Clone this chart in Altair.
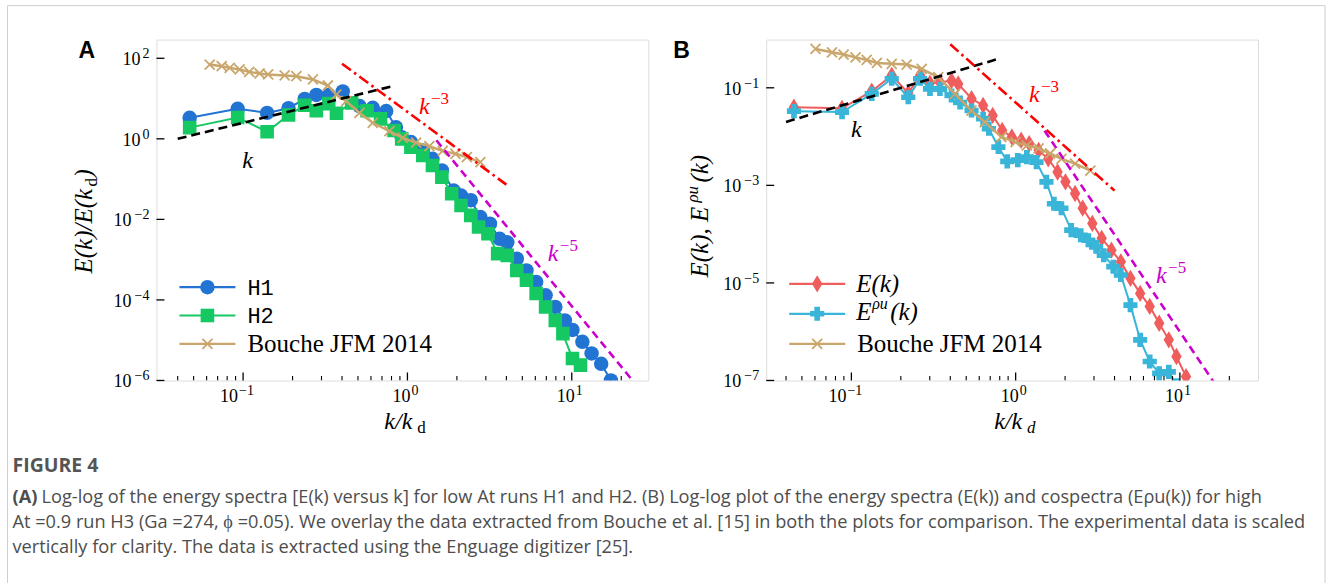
import altair as alt
import pandas as pd

# ---------------- Panel A: E(k)/E(k_d) for the low-At runs ----------------
h1_k = [0.0473, 0.0927, 0.140, 0.189, 0.237, 0.279, 0.332, 0.404, 0.511, 0.615, 0.743, 0.851,
        0.923, 1.05, 1.24, 1.42, 1.62, 1.91, 2.12, 2.43, 2.78, 3.18, 3.64, 4.05, 4.63, 5.30,
        6.07, 6.93, 7.94, 9.08, 10.1, 11.6, 13.2, 15.1, 17.3]
h1_e = [3.32, 5.55, 4.41, 5.76, 9.8, 12.3, 12.3, 15.0, 6.5, 5.9, 4.9, 1.95,
        1.1, 0.83, 0.51, 0.32, 0.164, 0.052, 0.039, 0.030, 0.0114, 0.0078, 0.0033, 0.0027,
        1.06e-3, 5.4e-4, 2.8e-4, 1.3e-4, 6.7e-5, 3.1e-5, 1.8e-5, 9.1e-6, 4.7e-6, 2.6e-6, 1.0e-6]

h2_k = [0.0473, 0.0927, 0.140, 0.189, 0.237, 0.279, 0.332, 0.370, 0.458, 0.568, 0.686, 0.829,
        0.923, 1.05, 1.24, 1.42, 1.62, 1.86, 2.12, 2.43, 2.71, 3.09, 3.54, 4.05, 4.63, 5.30,
        6.07, 6.93, 7.94, 8.83, 10.1, 11.3]
h2_e = [1.9, 3.4, 1.5, 3.9, 6.8, 5.0, 7.5, 4.3, 7.8, 5.0, 3.13, 1.61,
        1.0, 0.62, 0.386, 0.218, 0.112, 0.0433, 0.0222, 0.0126, 0.00645, 0.00441, 0.00141, 0.00128,
        5.4e-4, 3.1e-4, 1.44e-4, 6.7e-5, 3.1e-5, 1.46e-5, 3.5e-6, 2.4e-6]

bouche_a_k = [0.0626, 0.0741, 0.0829, 0.0952, 0.109, 0.126, 0.142, 0.179, 0.211, 0.266, 0.328,
              0.369, 0.424, 0.511, 0.615, 0.777, 0.936, 1.13, 1.36, 1.64, 1.96, 2.30, 2.78]
bouche_a_e = [70, 63.7, 57.8, 52.7, 46, 42, 39.6, 37.4, 36, 29.8, 21.1,
              12.6, 8.6, 4.4, 2.5, 1.55, 1.06, 0.8, 0.66, 0.50, 0.425, 0.351, 0.264]

# guide slopes (end points of straight lines in log-log)
slope1_a_k, slope1_a_e = [0.04, 0.8], [1.0, 20.0]
slope3_a_k, slope3_a_e = [0.4, 4.0], [73.0, 0.073]
slope5_a_k, slope5_a_e = [1.5, 30.0], [0.92, 2.9e-7]

# ---------------- Panel B: E(k) and E^{rho u}(k) for the high-At run ----------------
ek_k = [0.0447, 0.0877, 0.133, 0.176, 0.222, 0.262, 0.301, 0.346, 0.407, 0.447, 0.539, 0.634,
        0.725, 0.828, 0.948, 1.08, 1.21, 1.38, 1.58, 1.80, 2.01, 2.30, 2.56, 2.93, 3.34, 3.83,
        4.37, 5.00, 5.73, 6.55, 7.48, 8.56, 9.53, 10.9]
ek_e = [0.040, 0.038, 0.085, 0.18, 0.078, 0.18, 0.125, 0.13, 0.14, 0.12, 0.0596, 0.0436,
        0.0272, 0.0134, 0.0098, 0.0084, 0.0072, 0.0052, 0.0035, 0.00188, 0.00118, 6.8e-4, 3.4e-4,
        1.66e-4, 8.2e-5, 4.7e-5, 2.7e-5, 1.24e-5, 6.1e-6, 3.3e-6, 1.49e-6, 6.8e-7, 3.1e-7, 1.2e-7]

erho_k = [0.0447, 0.0877, 0.133, 0.176, 0.222, 0.262, 0.301, 0.346, 0.407, 0.459, 0.539, 0.634,
          0.687, 0.785, 0.889, 1.03, 1.17, 1.34, 1.54, 1.71, 1.90, 2.18, 2.49, 2.77, 3.09, 3.44,
          3.93, 4.37, 5.00, 5.73, 6.55, 7.48, 8.56, 9.6]
erho_e = [0.0332, 0.0318, 0.0753, 0.153, 0.064, 0.153, 0.095, 0.095, 0.0697, 0.05, 0.0343, 0.0232,
          0.0145, 0.0061, 0.0031, 0.0033, 0.0038, 0.0030, 0.00118, 4.2e-4, 3.4e-4, 1.21e-4, 9.5e-5,
          7.5e-5, 5.5e-5, 3.7e-5, 2.15e-5, 1.45e-5, 3.5e-6, 6.8e-7, 2.45e-7, 1.4e-7, 1.5e-7, 8e-8]

bouche_b_k = [0.0605, 0.0762, 0.0897, 0.106, 0.124, 0.143, 0.176, 0.217, 0.268, 0.338, 0.427,
              0.538, 0.649, 0.818, 1.0, 1.17, 1.38, 1.62, 1.90, 2.30, 2.85]
bouche_b_e = [0.627, 0.535, 0.48, 0.42, 0.372, 0.324, 0.31, 0.30, 0.245, 0.165, 0.075,
              0.034, 0.0198, 0.0098, 0.0077, 0.0066, 0.0057, 0.0045, 0.0035, 0.0028, 0.0020]

slope1_b_k, slope1_b_e = [0.04, 0.8], [0.02, 0.4]
slope3_b_k, slope3_b_e = [0.4, 4.0], [0.78, 7.8e-4]
slope5_b_k, slope5_b_e = [1.5, 20.0], [0.0132, 3.1e-8]

# axis ticks
x_major = [0.1, 1, 10]
x_major_exp = ["\u22121", "0", "1"]
x_minor = [0.04, 0.05, 0.06, 0.07, 0.08, 0.09, 0.2, 0.3, 0.4, 0.5, 0.6, 0.7, 0.8, 0.9,
           2, 3, 4, 5, 6, 7, 8, 9, 20]
ya_major = [1e2, 1e0, 1e-2, 1e-4, 1e-6]
ya_exp = ["2", "0", "\u22122", "\u22124", "\u22126"]
yb_major = [1e-1, 1e-3, 1e-5, 1e-7]
yb_exp = ["\u22121", "\u22123", "\u22125", "\u22127"]

caption_head = "FIGURE 4"
caption_lines = [
    "Log-log of the energy spectra [E(k) versus k] for low At runs H1 and H2. (B) Log-log plot of the energy spectra (E(k)) and cospectra (E\u03c1u(k)) for high",
    "At =0.9 run H3 (Ga =274, \u03d5 =0.05). We overlay the data extracted from Bouche et al. [15] in both the plots for comparison. The experimental data is scaled",
    "vertically for clarity. The data is extracted using the Enguage digitizer [25].",
]

# ---------------- styling ----------------
W, H = 492, 341
SERIF = "Liberation Serif"
MONO = "Liberation Mono"
SANS = "Open Sans"
CAP_SIZE = 18.2
LEG_SIZE = 25
BLUE, GREEN, TAN = "#2174d2", "#16c862", "#c9a66b"
RED_D, CYAN = "#f05d5d", "#38b5d8"
XMARK = "M-1,-1L1,1M1,-1L-1,1"
THIN_DIAMOND = "M0,-1L0.6,0L0,1L-0.6,0Z"
ONE = pd.DataFrame({"_": [0]})
SZ_CIRCLE, SZ_SQUARE, SZ_X, SZ_DIAMOND, SZ_PLUS = 210, 185, 100, 300, 200


def frame(k, e):
    return pd.DataFrame({"k": k, "e": e})


def enc(xs, ys):
    return dict(x=alt.X("k:Q", scale=xs, axis=None), y=alt.Y("e:Q", scale=ys, axis=None))


def series(k, e, xs, ys, color, shape, size, filled=True, lw=2.0):
    base = alt.Chart(frame(k, e)).encode(**enc(xs, ys))
    line = base.mark_line(color=color, strokeWidth=lw, clip=True)
    if filled:
        pts = base.mark_point(shape=shape, size=size, filled=True, fill=color, opacity=1,
                              strokeWidth=0, clip=True)
    else:
        pts = base.mark_point(shape=shape, size=size, filled=False, stroke=color, opacity=1,
                              strokeWidth=1.8, clip=True)
    return [line, pts]


def guide(k, e, xs, ys, color, dash):
    return alt.Chart(frame(k, e)).mark_line(color=color, strokeWidth=2.6, strokeDash=dash,
                                             clip=True).encode(**enc(xs, ys))


def txt(x, y, s, size, color="black", font=SERIF, italic=False, align="left",
        baseline="alphabetic", angle=0, weight="normal"):
    return alt.Chart(ONE).mark_text(
        text=s, font=font, fontSize=size, color=color, align=align, baseline=baseline,
        angle=angle, fontStyle="italic" if italic else "normal", fontWeight=weight,
    ).encode(x=alt.value(x), y=alt.value(y))


def power_label(k, e, xs, ys, expo, color, size=24):
    d = pd.DataFrame({"k": [k], "e": [e]})
    base = alt.Chart(d).encode(**enc(xs, ys))
    layers = [base.mark_text(text="k", font=SERIF, fontStyle="italic", fontSize=size, color=color,
                             align="left", baseline="alphabetic")]
    if expo:
        layers.append(base.mark_text(text=expo, font=SERIF, fontSize=17, color=color,
                                     align="left", baseline="alphabetic", dx=12, dy=-10))
    return layers


def axes(xs, ys, ymajor, yexp):
    out = []
    xm = pd.DataFrame({"t": x_major, "exp": x_major_exp})
    xn = pd.DataFrame({"t": x_minor})
    out.append(alt.Chart(xm).mark_rule(color="black", strokeWidth=1.3).encode(
        x=alt.X("t:Q", scale=xs, axis=None), y=alt.value(H), y2=alt.value(H - 8)))
    out.append(alt.Chart(xn).mark_rule(color="black", strokeWidth=1.1, clip=True).encode(
        x=alt.X("t:Q", scale=xs, axis=None), y=alt.value(H), y2=alt.value(H - 4.5)))
    for neg, d10, dexp in ((True, -5, -4), (False, 3, 4)):
        sub = xm[xm["exp"].str.startswith("\u2212") == neg]
        b = alt.Chart(sub).encode(x=alt.X("t:Q", scale=xs, axis=None))
        out.append(b.mark_text(text="10", font=SERIF, fontSize=18, align="right", dx=d10,
                               baseline="alphabetic").encode(y=alt.value(H + 22)))
        out.append(b.mark_text(font=SERIF, fontSize=14, align="left", dx=dexp,
                               baseline="alphabetic").encode(y=alt.value(H + 15), text="exp:N"))
    ym = pd.DataFrame({"t": ymajor, "exp": yexp})
    out.append(alt.Chart(ym).mark_rule(color="black", strokeWidth=1.3).encode(
        y=alt.Y("t:Q", scale=ys, axis=None), x=alt.value(0), x2=alt.value(8)))
    for neg, d10 in ((True, -25), (False, -16)):
        sub = ym[ym["exp"].str.startswith("\u2212") == neg]
        if len(sub) == 0:
            continue
        b = alt.Chart(sub).encode(y=alt.Y("t:Q", scale=ys, axis=None))
        out.append(b.mark_text(text="10", font=SERIF, fontSize=18, align="right", dy=7,
                               baseline="alphabetic").encode(x=alt.value(d10)))
        out.append(b.mark_text(font=SERIF, fontSize=14, align="right",
                               baseline="alphabetic").encode(x=alt.value(-7), text="exp:N"))
    return out


def legend_entry(y, color, shape, size, filled, label, font, lsize, x0=23):
    out = [alt.Chart(ONE).mark_rule(color=color, strokeWidth=2.2).encode(
        x=alt.value(x0), x2=alt.value(x0 + 56), y=alt.value(y))]
    if filled:
        out.append(alt.Chart(ONE).mark_point(shape=shape, size=size, filled=True, fill=color,
                                             opacity=1, strokeWidth=0).encode(
            x=alt.value(x0 + 28), y=alt.value(y)))
    else:
        out.append(alt.Chart(ONE).mark_point(shape=shape, size=size, filled=False, stroke=color,
                                             opacity=1, strokeWidth=1.8).encode(
            x=alt.value(x0 + 28), y=alt.value(y)))
    if label is not None:
        out.append(txt(x0 + 68, y + 8, label, lsize, font=font))
    return out


# ---------------- Panel A ----------------
xsA = alt.Scale(type="log", domain=[0.0297, 29.2], nice=False)
ysA = alt.Scale(type="log", domain=[1e-6, 291], nice=False)

layers_a = []
layers_a += series(h1_k, h1_e, xsA, ysA, BLUE, "circle", SZ_CIRCLE)
layers_a += series(h2_k, h2_e, xsA, ysA, GREEN, "square", SZ_SQUARE)
layers_a += series(bouche_a_k, bouche_a_e, xsA, ysA, TAN, XMARK, SZ_X, filled=False, lw=2.5)
layers_a.append(guide(slope1_a_k, slope1_a_e, xsA, ysA, "black", [9, 5]))
layers_a.append(guide(slope3_a_k, slope3_a_e, xsA, ysA, "#ff0000", [11, 4, 2.5, 4]))
layers_a.append(guide(slope5_a_k, slope5_a_e, xsA, ysA, "#cc00cc", [8, 5]))
layers_a += power_label(0.0989, 0.19, xsA, ysA, None, "black")
layers_a += power_label(1.176, 4.1, xsA, ysA, "\u22123", "#ff0000")
layers_a += power_label(7.15, 9.2e-4, xsA, ysA, "\u22125", "#cc00cc")
layers_a += axes(xsA, ysA, ya_major, ya_exp)
layers_a += legend_entry(247.7, BLUE, "circle", SZ_CIRCLE, True, "H1", MONO, 22)
layers_a += legend_entry(276, GREEN, "square", SZ_SQUARE, True, "H2", MONO, 22)
layers_a += legend_entry(304.3, TAN, XMARK, SZ_X, False, "Bouche JFM 2014", SERIF, LEG_SIZE)
# axis titles and panel letter
layers_a.append(txt(228, 390, "k/k", 24, italic=True))
layers_a.append(txt(261, 394, "d", 17))
layers_a.append(txt(-64, 234, "E(k)/E(k", 25, italic=True, angle=270))
layers_a.append(txt(-59, 147, "d", 17, angle=270))
layers_a.append(txt(-64, 138, ")", 25, italic=True, angle=270))
layers_a.append(txt(-78, 18, "A", 23, font="Liberation Sans", weight="bold"))
# outer figure frame and caption
layers_a.append(alt.Chart(ONE).mark_rect(fill=None, stroke="#cfcfcf", strokeWidth=1).encode(
    x=alt.value(-149), x2=alt.value(1169), y=alt.value(-34), y2=alt.value(570)))
layers_a.append(txt(-144, 433, caption_head, 19.5, color="#555555", font=SANS, weight="bold"))
layers_a.append(txt(-144, 464, "(A)", CAP_SIZE, color="#4d4d4d", font=SANS, weight="bold"))
layers_a.append(txt(-115, 464, caption_lines[0], CAP_SIZE, color="#4d4d4d", font=SANS))
for i, line in enumerate(caption_lines[1:]):
    layers_a.append(txt(-144, 489 + 25 * i, line, CAP_SIZE, color="#4d4d4d", font=SANS))

panel_a = alt.layer(*layers_a).properties(width=W, height=H)

# ---------------- Panel B ----------------
xsB = alt.Scale(type="log", domain=[0.0303, 29.9], nice=False)
ysB = alt.Scale(type="log", domain=[1e-7, 0.973], nice=False)

layers_b = []
layers_b += series(ek_k, ek_e, xsB, ysB, RED_D, THIN_DIAMOND, SZ_DIAMOND)
layers_b += series(erho_k, erho_e, xsB, ysB, CYAN, "cross", SZ_PLUS)
layers_b += series(bouche_b_k, bouche_b_e, xsB, ysB, TAN, XMARK, SZ_X, filled=False, lw=2.5)
layers_b.append(guide(slope1_b_k, slope1_b_e, xsB, ysB, "black", [9, 5]))
layers_b.append(guide(slope3_b_k, slope3_b_e, xsB, ysB, "#ff0000", [11, 4, 2.5, 4]))
layers_b.append(guide(slope5_b_k, slope5_b_e, xsB, ysB, "#cc00cc", [8, 5]))
layers_b += power_label(0.0995, 0.0098, xsB, ysB, None, "black")
layers_b += power_label(1.204, 0.0508, xsB, ysB, "\u22123", "#ff0000")
layers_b += power_label(7.16, 9.8e-6, xsB, ysB, "\u22125", "#cc00cc")
layers_b += axes(xsB, ysB, yb_major, yb_exp)
layers_b += legend_entry(244.3, RED_D, THIN_DIAMOND, SZ_DIAMOND, True, None, SERIF, LEG_SIZE)
layers_b.append(txt(90, 252, "E(k)", 25, italic=True))
layers_b += legend_entry(274.3, CYAN, "cross", SZ_PLUS, True, None, SERIF, LEG_SIZE)
layers_b.append(txt(90, 281, "E", 25, italic=True))
layers_b.append(txt(106, 270, "\u03c1u", 16, italic=True))
layers_b.append(txt(124, 281, "(k)", 25, italic=True))
layers_b += legend_entry(304.3, TAN, XMARK, SZ_X, False, "Bouche JFM 2014", SERIF, LEG_SIZE)
layers_b.append(txt(228, 390, "k/k", 24, italic=True))
layers_b.append(txt(261, 394, "d", 17, italic=True))
layers_b.append(txt(-58, 238, "E(k), E", 25, italic=True, angle=270))
layers_b.append(txt(-68, 163, "\u03c1u", 17, italic=True, angle=270))
layers_b.append(txt(-58, 143, "(k)", 25, italic=True, angle=270))
layers_b.append(txt(-93, 18, "B", 23, font="Liberation Sans", weight="bold"))

panel_b = alt.layer(*layers_b).properties(width=W, height=H)

chart = alt.hconcat(panel_a, panel_b, spacing=118, bounds="flush").properties(
    padding={"left": 6.5, "top": 4.5, "right": 6, "bottom": 0}
).configure_view(stroke="#2a2a2a", strokeWidth=1.6).configure(background="white")

chart.save("out.html", embed_options={"renderer": "svg", "actions": False})
